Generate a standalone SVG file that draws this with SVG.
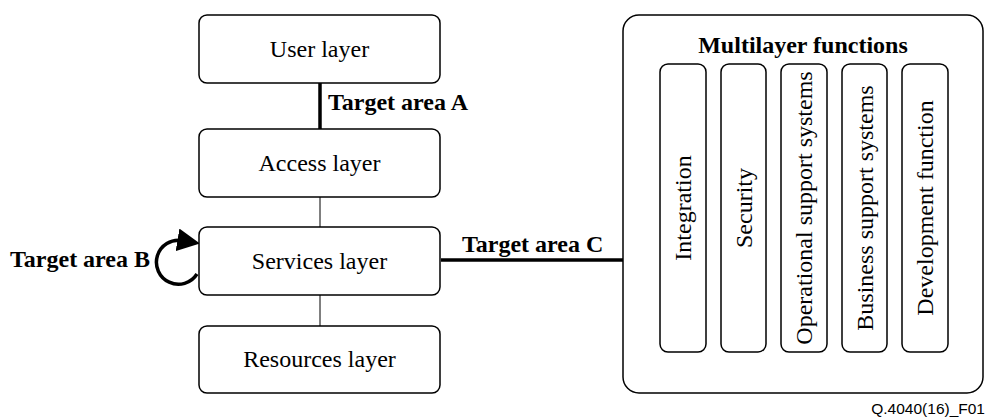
<svg xmlns="http://www.w3.org/2000/svg" width="987" height="417" viewBox="0 0 987 417">
  <style>
    .box { fill: #fff; stroke: #000; stroke-width: 1.5; }
    .lbl { font-family: "Liberation Serif", "Times New Roman", serif; font-size: 24px; fill: #000; }
    .bold { font-weight: bold; }
    .vt { text-anchor: middle; dominant-baseline: central; }
    .thin { stroke: #000; stroke-width: 1; fill: none; }
    .thick { stroke: #000; stroke-width: 3.5; fill: none; }
    .fig { font-family: "Liberation Sans", Arial, sans-serif; font-size: 15.5px; fill: #000; }
  </style>
  <defs>
    <marker id="arrow" viewBox="0 0 10 10" refX="2" refY="5" markerWidth="6.5" markerHeight="6.5" orient="auto" markerUnits="strokeWidth">
      <path d="M0,0 L10,5 L0,10 z" fill="#000"/>
    </marker>
  </defs>

  <!-- connectors between layers -->
  <g id="connectors">
    <line class="thick" x1="320" y1="83" x2="320" y2="129"/>
    <line class="thin" x1="320" y1="197" x2="320" y2="227"/>
    <line class="thin" x1="320" y1="295" x2="320" y2="326"/>
    <line class="thick" x1="441" y1="260" x2="623" y2="260"/>
    <path class="thick" d="M197,274 A22,22 0 1 1 182,240.5" stroke-width="3" marker-end="url(#arrow)"/>
    <text class="lbl bold" x="328" y="110">Target area A</text>
    <text class="lbl bold" x="150" y="267" text-anchor="end">Target area B</text>
    <text class="lbl bold" x="462" y="252">Target area C</text>
  </g>

  <g id="user-layer">
    <rect class="box" x="199" y="15" width="241" height="68" rx="8"/>
    <text class="lbl" x="319.5" y="56.5" text-anchor="middle">User layer</text>
  </g>
  <g id="access-layer">
    <rect class="box" x="199" y="129" width="241" height="68" rx="8"/>
    <text class="lbl" x="319.5" y="170.5" text-anchor="middle">Access layer</text>
  </g>
  <g id="services-layer">
    <rect class="box" x="199" y="227" width="241" height="68" rx="8"/>
    <text class="lbl" x="319.5" y="268.5" text-anchor="middle">Services layer</text>
  </g>
  <g id="resources-layer">
    <rect class="box" x="199" y="326" width="241" height="67" rx="8"/>
    <text class="lbl" x="319.5" y="367" text-anchor="middle">Resources layer</text>
  </g>

  <g id="multilayer-functions">
    <rect class="box" x="623" y="15" width="360" height="378" rx="16"/>
    <text class="lbl bold" x="803" y="53" text-anchor="middle">Multilayer functions</text>
  </g>
  <g id="integration">
    <rect class="box" x="660" y="64" width="46" height="288" rx="8"/>
    <text class="lbl vt" transform="translate(683,208) rotate(-90)">Integration</text>
  </g>
  <g id="security">
    <rect class="box" x="721" y="64" width="45" height="288" rx="8"/>
    <text class="lbl vt" transform="translate(743.5,208) rotate(-90)">Security</text>
  </g>
  <g id="operational-support">
    <rect class="box" x="781" y="64" width="46" height="288" rx="8"/>
    <text class="lbl vt" transform="translate(804,208) rotate(-90)">Operational support systems</text>
  </g>
  <g id="business-support">
    <rect class="box" x="842" y="64" width="45" height="288" rx="8"/>
    <text class="lbl vt" transform="translate(864.5,208) rotate(-90)">Business support systems</text>
  </g>
  <g id="development-function">
    <rect class="box" x="902" y="64" width="46" height="288" rx="8"/>
    <text class="lbl vt" transform="translate(925,208) rotate(-90)">Development function</text>
  </g>

  <text class="fig" x="985" y="414" text-anchor="end">Q.4040(16)_F01</text>
</svg>
